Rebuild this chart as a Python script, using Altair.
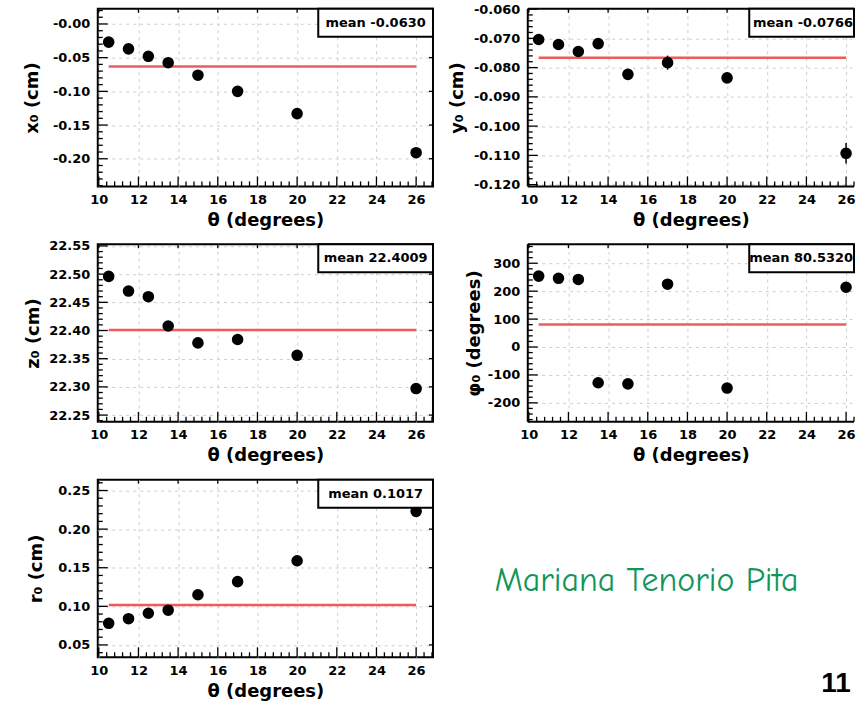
import altair as alt
import numpy as np
import pandas as pd

# ---------------- data ----------------
theta = [10.5, 11.5, 12.5, 13.5, 15.0, 17.0, 20.0, 26.0]

x0_vals = [-0.027, -0.037, -0.048, -0.0575, -0.076, -0.100, -0.133, -0.191]
x0_err = [0.0015, 0.0015, 0.0015, 0.0015, 0.002, 0.002, 0.003, 0.004]

y0_vals = [-0.0704, -0.0721, -0.0745, -0.0718, -0.0823, -0.0783, -0.0835, -0.1093]
y0_err = [0.0008, 0.0008, 0.0009, 0.0018, 0.0012, 0.0024, 0.0018, 0.0035]

z0_vals = [22.496, 22.470, 22.460, 22.408, 22.378, 22.384, 22.356, 22.297]
z0_err = [0.002, 0.002, 0.002, 0.002, 0.002, 0.003, 0.004, 0.005]

phi0_vals = [254, 246, 242, -128, -132, 225, -147, 214]
phi0_err = [3, 3, 3, 4, 4, 5, 9, 11]

r0_vals = [0.078, 0.084, 0.091, 0.095, 0.115, 0.132, 0.159, 0.223]
r0_err = [0.001, 0.001, 0.001, 0.001, 0.0015, 0.002, 0.003, 0.004]

means = [-0.0630, -0.0766, 22.4009, 80.5320, 0.1017]
y_titles = ["x\u2080 (cm)", "y\u2080 (cm)", "z\u2080 (cm)", "\u03c6\u2080 (degrees)", "r\u2080 (cm)"]
x_title = "\u03b8 (degrees)"

x_major = [10, 12, 14, 16, 18, 20, 22, 24, 26]

x0_major = [-0.20, -0.15, -0.10, -0.05, 0.0]
y0_major = [-0.120, -0.110, -0.100, -0.090, -0.080, -0.070, -0.060]
z0_major = [22.25, 22.30, 22.35, 22.40, 22.45, 22.50, 22.55]
phi0_major = [-200, -100, 0, 100, 200, 300]
r0_major = [0.05, 0.10, 0.15, 0.20, 0.25]

author = ["Mariana Tenorio Pita"]
page_no = ["11"]

# ---------------- layout ----------------
W_L, W_R, H = 336, 327, 178
X_DOM_L = [9.95, 26.85]
X_DOM_R = [9.95, 26.40]   # right column is cut by the slide edge
BOX_H = 28


def minor_ticks(lo, hi, step, majors):
    start = np.ceil(lo / step) * step
    vals = np.round(np.arange(start, hi + 1e-12, step), 6)
    maj = set(np.round(majors, 6))
    return [float(v) for v in vals if v not in maj and lo <= v <= hi]


def make_panel(vals, errs, mean, ytitle, ydom, ymajor, ystep, fmt, title_x,
               right_col=False, zero_label=None):
    W = W_R if right_col else W_L
    x_dom = X_DOM_R if right_col else X_DOM_L
    vals = np.array(vals, dtype=float)
    errs = np.array(errs, dtype=float)
    xs = alt.Scale(domain=x_dom, nice=False, zero=False)
    ys = alt.Scale(domain=ydom, nice=False, zero=False)
    label_expr = f"replace(format(datum.value, '{fmt}'), '\u2212', '-')"
    if zero_label is not None:
        label_expr = f"abs(datum.value) < 1e-9 ? '{zero_label}' : " + label_expr
    grid_kw = dict(grid=True, gridDash=[3, 4], gridColor="#cdcdcd", gridWidth=1)
    xaxis = alt.Axis(values=x_major, title=x_title, format="d", ticks=False, domain=False,
                     labelFlush=False, labelPadding=7, titlePadding=5, **grid_kw)
    yaxis = alt.Axis(values=ymajor, title=ytitle, labelExpr=label_expr, ticks=False,
                     domain=False, labelFlush=False, labelPadding=8,
                     titleX=title_x, titleY=H / 2, titleBaseline="middle", **grid_kw)

    def X(f):
        return alt.X(f, type="quantitative", scale=xs, axis=xaxis)

    def Y(f):
        return alt.Y(f, type="quantitative", scale=ys, axis=yaxis)

    df = pd.DataFrame({"theta": theta, "val": vals, "lo": vals - errs, "hi": vals + errs})
    tick_style = dict(color="black", strokeWidth=1.3)

    xmin = minor_ticks(x_dom[0], x_dom[1], 0.4, x_major)
    ymin = minor_ticks(ydom[0], ydom[1], ystep, ymajor)
    dxM = pd.DataFrame({"theta": x_major})
    dxm = pd.DataFrame({"theta": xmin})
    dyM = pd.DataFrame({"val": ymajor})
    dym = pd.DataFrame({"val": ymin})
    lab = pd.DataFrame({"label": [f"mean {mean:.4f}"]})

    layers = [
        alt.Chart(dxM).mark_rule(**tick_style).encode(x=X("theta"), y=alt.value(H), y2=alt.value(H - 10)),
        alt.Chart(dxm).mark_rule(**tick_style).encode(x=X("theta"), y=alt.value(H), y2=alt.value(H - 5)),
        alt.Chart(dxM).mark_rule(**tick_style).encode(x=X("theta"), y=alt.value(0), y2=alt.value(4)),
        alt.Chart(dyM).mark_rule(**tick_style).encode(y=Y("val"), x=alt.value(0), x2=alt.value(10)),
        alt.Chart(dym).mark_rule(**tick_style).encode(y=Y("val"), x=alt.value(0), x2=alt.value(5)),
    ]
    if not right_col:
        layers.append(
            alt.Chart(dyM).mark_rule(**tick_style).encode(y=Y("val"), x=alt.value(W), x2=alt.value(W - 4))
        )
    else:
        # frame on three sides only: the right edge is cut off in the slide
        frame = dict(color="black", strokeWidth=2)
        layers += [
            alt.Chart(lab).mark_rule(**frame).encode(x=alt.value(0), x2=alt.value(W), y=alt.value(0)),
            alt.Chart(lab).mark_rule(**frame).encode(x=alt.value(0), x2=alt.value(W), y=alt.value(H)),
            alt.Chart(lab).mark_rule(**frame).encode(x=alt.value(0), y=alt.value(0), y2=alt.value(H)),
        ]
    box_x = 222 if right_col else W - 115
    if right_col:
        txt = alt.Chart(lab).mark_text(font="DejaVu Sans", fontSize=13, fontWeight="bold",
                                       color="black", align="right", baseline="middle").encode(
            x=alt.value(W - 1), y=alt.value(BOX_H / 2), text="label:N")
    else:
        txt = alt.Chart(lab).mark_text(font="DejaVu Sans", fontSize=13, fontWeight="bold",
                                       color="black", align="center", baseline="middle").encode(
            x=alt.value((box_x + W) / 2), y=alt.value(BOX_H / 2), text="label:N")
    layers += [
        alt.Chart(pd.DataFrame({"theta": [theta[0]], "theta2": [theta[-1]], "val": [mean]}))
        .mark_rule(color="#ef5b5b", strokeWidth=2.5)
        .encode(x=X("theta"), x2="theta2", y=Y("val")),
        alt.Chart(df).mark_rule(color="black", strokeWidth=1.5).encode(x=X("theta"), y=Y("lo"), y2="hi"),
        alt.Chart(df).mark_circle(color="black", opacity=1, size=135).encode(x=X("theta"), y=Y("val")),
        alt.Chart(lab).mark_rect(fill="white", stroke="black", strokeWidth=2)
        .encode(x=alt.value(box_x), x2=alt.value(W), y=alt.value(0), y2=alt.value(BOX_H)),
        txt,
    ]
    props = dict(width=W, height=H)
    if right_col:
        props["view"] = alt.ViewBackground(strokeOpacity=0)
    return alt.layer(*layers).properties(**props)


p1 = make_panel(x0_vals, x0_err, means[0], y_titles[0], [-0.241, 0.0225], x0_major, 0.01, ".2f",
                -65, zero_label="-0.00")
p2 = make_panel(y0_vals, y0_err, means[1], y_titles[1], [-0.1206, -0.0599], y0_major, 0.002, ".3f",
                -70, right_col=True)
p3 = make_panel(z0_vals, z0_err, means[2], y_titles[2], [22.238, 22.553], z0_major, 0.01, ".2f", -64)
p4 = make_panel(phi0_vals, phi0_err, means[3], y_titles[3], [-268, 368], phi0_major, 20, "d",
                -53, right_col=True)
p5 = make_panel(r0_vals, r0_err, means[4], y_titles[4], [0.034, 0.264], r0_major, 0.01, ".2f", -61)

note_author = alt.Chart(pd.DataFrame({"t": author})).mark_text(
    font="Comic Sans MS, Comic Neue, Open Sans", fontSize=34, color="#12955a",
    align="center", baseline="middle"
).encode(x=alt.value(119), y=alt.value(102), text="t:N")
note_page = alt.Chart(pd.DataFrame({"t": page_no})).mark_text(
    font="Comic Sans MS, Liberation Sans", fontSize=28, fontWeight="bold", color="black",
    align="center", baseline="bottom"
).encode(x=alt.value(309), y=alt.value(219), text="t:N")
p6 = alt.layer(note_author, note_page).properties(
    width=W_R, height=H, view=alt.ViewBackground(strokeOpacity=0)
)

chart = alt.concat(
    p1, p2, p3, p4, p5, p6, columns=2,
    spacing=alt.RowColnumber(row=58, column=95), bounds="flush"
).properties(
    padding={"left": 23, "top": 2, "right": 0, "bottom": 0}
).configure_view(
    stroke="black", strokeWidth=2
).configure_axis(
    labelFont="DejaVu Sans", labelFontWeight="bold", labelFontSize=13, labelColor="black",
    titleFont="DejaVu Sans", titleFontWeight="bold", titleFontSize=18, titleColor="black"
)

chart.save("out.html", embed_options={"renderer": "svg", "actions": False})
